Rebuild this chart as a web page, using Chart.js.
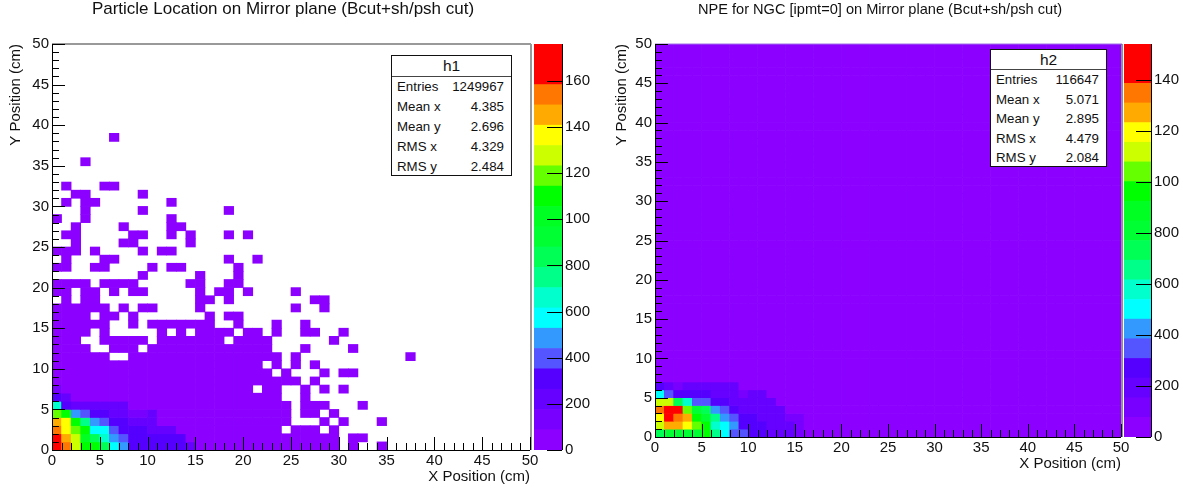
<!DOCTYPE html>
<html>
<head>
<meta charset="utf-8">
<script src="https://cdn.jsdelivr.net/npm/chart.js@4"></script>
<style>
  html, body { margin: 0; padding: 0; background: #fff; }
  #page { position: relative; width: 1183px; height: 491px; overflow: hidden; filter: blur(0.35px); }
  canvas { position: absolute; top: 0; }
  .title { position: absolute; transform: translateX(-50%); white-space: nowrap; color: #111;
           font-family: "Liberation Sans", sans-serif; }
  .stats { position: absolute; background: #fff; border: 1px solid #111; color: #111;
           font: 13.3px "Liberation Sans", sans-serif; box-sizing: border-box; }
  .stats .name { font-size: 15.5px; text-align: center; border-bottom: 1px solid #444; }
  .stats .row { display: flex; justify-content: space-between; padding: 0 7px 0 5px; }
</style>
</head>
<body>
<div id="page">
  <canvas id="heat1" width="566" height="491" style="left:0"></canvas>
  <canvas id="bar1" width="70" height="491" style="left:530px"></canvas>
  <canvas id="heat2" width="560" height="491" style="left:600px"></canvas>
  <canvas id="bar2" width="63" height="491" style="left:1120px"></canvas>
</div>
<script>
// Colour bands, bottom of the palette first. One band per character below: 0-9, a-j
const palette = [
  "#8c00ff", "#7700ff", "#6600ff", "#5500ff", "#5555ff", "#3399ff", "#00ffff", "#00ffcc", "#00ff88", "#00ff55",
  "#00ff33", "#00ff22", "#00ff00", "#66ff00", "#ccff00", "#ffff00", "#ffaa00", "#ff7700", "#ff0000", "#ff0000"
];
const bandChars = "0123456789abcdefghij";

// Histogram cells per row, y bin 0 first, x bin 0 leftmost. "." is an empty bin
const h1Rows = [
  "jhecc9653333332000000000000000.0..0",
  "igeb97543333330000000000000000.00",
  "hfdc66433322200000000000.000.0",
  "gfc8543322200000000000000...0.0...0",
  "dc54332211200000000000000.00.0",
  "7322222200000000000000000.000...0",
  "320000000000000000000000..0",
  "100000000000000000000.00..0.0.0",
  "00000000000000000000000000.0",
  "00000000000000000000000.0...0.00",
  "0000000000000000000000.0.0.0",
  "000000..0000000000000000.0...........0",
  "0000..000.0000000000000...0....0",
  "000..00000.0000000.0000......0",
  "0000.0.....0.0.0000.00.0..00..0",
  "000000..0.0000000..0...0..0",
  "0000.00.0.......0.00",
  "000000.0.00....0.........0..0",
  ".0.00..........00.0........00",
  "00.00.0.00.....0.00.0....0",
  "0000.0000.....00..00",
  ".........0.....0...0",
  "00..00....0.00.....0",
  ".0...00...........0..0",
  "000.0....0.00",
  "..0....00.....0",
  ".00.....00..0.0...0.0",
  "..0....0....00",
  "0..0........0",
  "...0.....0........0",
  ".0.00.......0",
  "..00.....0",
  ".0...00",
  "",
  "",
  "...0",
  "",
  "",
  "......0"
];
const h2Rows = [
  "9aaaac8644332221",
  "eggfdc7653332221",
  "fihgca8543322211",
  "hiida954322222",
  "ee97443322222",
  "643333222122",
  "321222222"
];

const axisTicks = [0, 5, 10, 15, 20, 25, 30, 35, 40, 45, 50];
const binCount = 50;

const h1BarMax = 1760;
const h2BarMax = 1540;
const h1BarTicks = [0, 200, 400, 600, 800, 1000, 1200, 1400, 1600];
const h2BarTicks = [0, 200, 400, 600, 800, 1000, 1200, 1400];
const h1BarLabels = ["0", "200", "400", "600", "800", "100", "120", "140", "160"];
const h2BarLabels = ["0", "200", "400", "600", "800", "100", "120", "140"];

const statLabels = ["Entries", "Mean x", "Mean y", "RMS x", "RMS y"];
const h1Stats = ["1249967", "4.385", "2.696", "4.329", "2.484"];
const h2Stats = ["116647", "5.071", "2.895", "4.479", "2.084"];

Chart.defaults.font.family = '"Liberation Sans", sans-serif';
Chart.defaults.color = "#111";
Chart.defaults.animation = false;

// ROOT draws its ticks inside the frame, so they are done here from the scales
const heatFrame = (frame) => ({
  id: "heatFrame",
  afterDatasetsDraw(chart) {
    const { ctx, chartArea: a, scales: { x, y } } = chart;
    ctx.save();
    ctx.strokeStyle = frame.top;
    ctx.lineWidth = frame.width;
    ctx.beginPath();
    ctx.moveTo(a.left, a.top);
    ctx.lineTo(a.right + 1, a.top);
    ctx.stroke();
    ctx.strokeStyle = frame.right;
    ctx.beginPath();
    ctx.moveTo(a.right + 1, a.top);
    ctx.lineTo(a.right + 1, a.bottom);
    ctx.stroke();
    ctx.lineWidth = 1;
    ctx.strokeStyle = "#000";
    ctx.beginPath();
    for (let v = 0; v <= binCount; v++) {
      const len = v % 5 === 0 ? 13 : 7;
      const px = Math.round(x.getPixelForValue(v)) + 0.5;
      const py = Math.round(y.getPixelForValue(v)) + 0.5;
      ctx.moveTo(px, a.bottom);
      ctx.lineTo(px, a.bottom - len);
      ctx.moveTo(a.left, py);
      ctx.lineTo(a.left + len, py);
    }
    ctx.moveTo(a.left + 0.5, a.top);
    ctx.lineTo(a.left + 0.5, a.bottom);
    ctx.moveTo(a.left, a.bottom + 0.5);
    ctx.lineTo(a.right, a.bottom + 0.5);
    ctx.stroke();
    ctx.restore();
  }
});

const barFrame = {
  id: "barFrame",
  afterDatasetsDraw(chart) {
    const { ctx, chartArea: a, scales: { y } } = chart;
    ctx.save();
    ctx.lineWidth = 1;
    ctx.strokeStyle = "#000";
    ctx.beginPath();
    y.ticks.forEach((t) => {
      const py = Math.round(y.getPixelForValue(t.value)) + 0.5;
      ctx.moveTo(a.right, py);
      ctx.lineTo(a.right - 15, py);
    });
    ctx.moveTo(a.right + 0.5, a.top);
    ctx.lineTo(a.right + 0.5, a.bottom);
    ctx.stroke();
    ctx.restore();
  }
};

const fixedSize = (prop, size) => (scale) => {
  scale[prop] = size;
  scale.paddingLeft = scale.paddingRight = scale.paddingTop = scale.paddingBottom = 0;
};

const makeHeat = (id, rows, emptyChar, opts) => {
  const cells = [], colours = [];
  for (let j = 0; j < binCount; j++) {
    const row = (rows[j] || "").padEnd(binCount, emptyChar);
    for (let i = 0; i < binCount; i++) {
      if (row[i] === ".") continue;
      cells.push({ x: i + 0.5, y: [j, j + 1] });
      colours.push(palette[bandChars.indexOf(row[i])]);
    }
  }
  new Chart(document.getElementById(id), {
    type: "bar",
    data: {
      datasets: [{
        data: cells,
        backgroundColor: colours,
        borderWidth: 0,
        barPercentage: 1,
        categoryPercentage: 1
      }]
    },
    plugins: [heatFrame(opts.frame)],
    options: {
      responsive: false,
      layout: { padding: { top: 44, right: opts.padRight, bottom: opts.padBottom } },
      plugins: { legend: { display: false }, tooltip: { enabled: false } },
      scales: {
        x: {
          type: "linear",
          min: 0,
          max: binCount,
          offset: false,
          afterBuildTicks: (s) => { s.ticks = axisTicks.map((v) => ({ value: v })); },
          afterFit: fixedSize("height", opts.xHeight),
          grid: { display: false, offset: false, drawTicks: false },
          border: { display: false },
          ticks: { font: { size: 15 }, padding: opts.xTickPad, maxRotation: 0, autoSkip: false },
          title: {
            display: true,
            text: "X Position (cm)",
            align: "end",
            font: { size: 15 },
            padding: { top: 0, bottom: 0 }
          }
        },
        y: {
          type: "linear",
          min: 0,
          max: binCount,
          afterBuildTicks: (s) => { s.ticks = axisTicks.map((v) => ({ value: v })); },
          afterFit: fixedSize("width", opts.yWidth),
          grid: { display: false, drawTicks: false },
          border: { display: false },
          ticks: { font: { size: 15 }, padding: 3, autoSkip: false },
          title: {
            display: true,
            text: "Y Position (cm)",
            align: "end",
            font: { size: 15 },
            padding: { top: opts.yTitleGap, bottom: 0 }
          }
        }
      }
    }
  });
};

const makeBar = (id, max, ticks, labels, opts) => {
  const size = max / palette.length;
  new Chart(document.getElementById(id), {
    type: "bar",
    data: {
      labels: [""],
      datasets: palette.map((c, n) => ({
        data: [[n * size, (n + 1) * size]],
        backgroundColor: c,
        borderWidth: 0,
        barPercentage: 1,
        categoryPercentage: 1,
        grouped: false
      }))
    },
    plugins: [barFrame],
    options: {
      responsive: false,
      layout: { padding: { left: opts.padLeft, top: 44, bottom: opts.padBottom } },
      plugins: { legend: { display: false }, tooltip: { enabled: false } },
      scales: {
        x: { display: false, stacked: true },
        y: {
          position: "right",
          min: 0,
          max: max,
          afterBuildTicks: (s) => { s.ticks = ticks.map((v) => ({ value: v })); },
          afterFit: fixedSize("width", opts.width),
          grid: { display: false, drawTicks: false },
          border: { display: false },
          ticks: {
            font: { size: 15 },
            padding: opts.tickPad,
            autoSkip: false,
            callback: (v) => labels[ticks.indexOf(v)]
          }
        }
      }
    }
  });
};

const addTitle = (text, center, top, size) => {
  const el = document.createElement("div");
  el.className = "title";
  el.textContent = text;
  el.style.left = center + "px";
  el.style.top = top + "px";
  el.style.fontSize = size + "px";
  document.getElementById("page").appendChild(el);
};

const addStats = (name, values, box) => {
  const el = document.createElement("div");
  el.className = "stats";
  el.style.cssText = `left:${box.left}px;top:${box.top}px;width:${box.width}px;height:${box.height}px`;
  const head = document.createElement("div");
  head.className = "name";
  head.textContent = name;
  head.style.height = head.style.lineHeight = box.head + "px";
  el.appendChild(head);
  statLabels.forEach((label, n) => {
    const row = document.createElement("div");
    row.className = "row";
    row.style.height = row.style.lineHeight = box.rowHeight + "px";
    const a = document.createElement("span"), b = document.createElement("span");
    a.textContent = label;
    b.textContent = values[n];
    row.append(a, b);
    el.appendChild(row);
  });
  document.getElementById("page").appendChild(el);
};

makeHeat("heat1", h1Rows, ".", {
  padRight: 36, padBottom: 5, xHeight: 36, yWidth: 52, xTickPad: 2, yTitleGap: 7,
  frame: { top: "#999", right: "#999", width: 2 }
});
makeBar("bar1", h1BarMax, h1BarTicks, h1BarLabels, { padLeft: 4, padBottom: 41, width: 38, tickPad: 3 });

makeHeat("heat2", h2Rows, "0", {
  padRight: 39, padBottom: 18, xHeight: 36, yWidth: 55, xTickPad: 2, yTitleGap: 13,
  frame: { top: "#a070e8", right: "#222", width: 1 }
});
makeBar("bar2", h2BarMax, h2BarTicks, h2BarLabels, { padLeft: 4, padBottom: 54, width: 32, tickPad: 3 });

addTitle("Particle Location on Mirror plane (Bcut+sh/psh cut)", 283, -1, 17);
addTitle("NPE for NGC [ipmt=0] on Mirror plane (Bcut+sh/psh cut)", 880, 1, 14.6);

addStats("h1", h1Stats, { left: 391, top: 55, width: 121, height: 121, head: 20, rowHeight: 20 });
addStats("h2", h2Stats, { left: 990, top: 49, width: 117, height: 118, head: 19, rowHeight: 19.5 });
</script>
</body>
</html>
